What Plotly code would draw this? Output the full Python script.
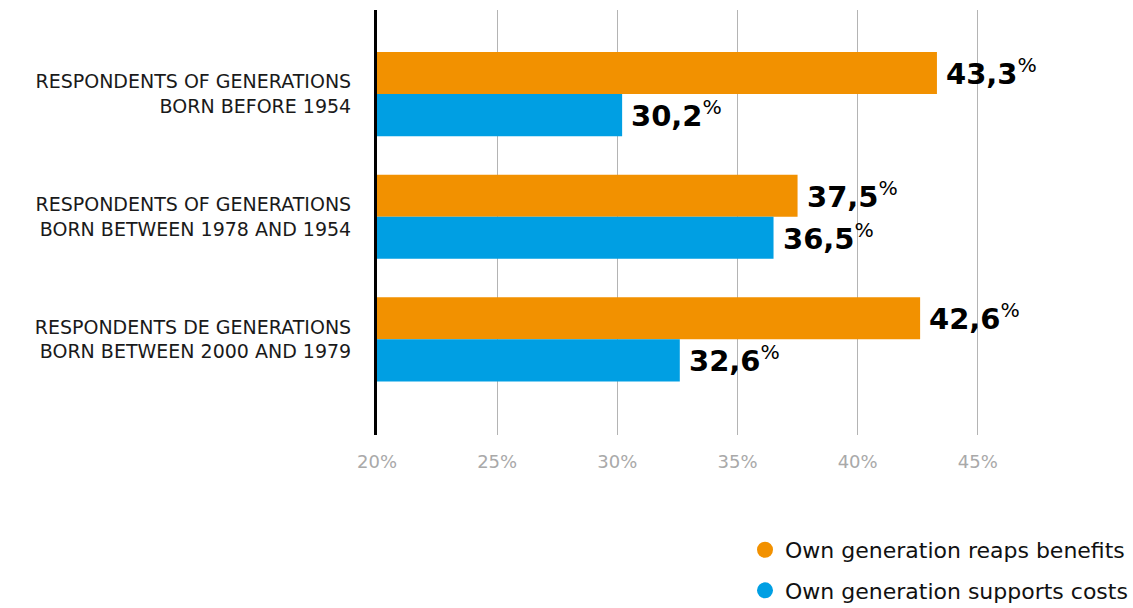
import plotly.graph_objects as go

# Survey groups (top to bottom) and the share answering each statement, in %
groups = [
    "RESPONDENTS OF GENERATIONS<br>BORN BEFORE 1954",
    "RESPONDENTS OF GENERATIONS<br>BORN BETWEEN 1978 AND 1954",
    "RESPONDENTS DE GENERATIONS<br>BORN BETWEEN 2000 AND 1979",
]
reaps_benefits = [43.3, 37.5, 42.6]
supports_costs = [30.2, 36.5, 32.6]

series_names = ["Own generation reaps benefits", "Own generation supports costs"]
series_colors = ["#f29100", "#009fe3"]

x_ticks = [20, 25, 30, 35, 40, 45]
x_tick_labels = ["20%", "25%", "30%", "35%", "40%", "45%"]

FONT = "DejaVu Sans"

fig = go.Figure()

for name, vals, color in zip(series_names, [reaps_benefits, supports_costs], series_colors):
    fig.add_trace(go.Bar(
        y=groups, x=vals, orientation="h", base=0,
        marker=dict(color=color, line=dict(width=0)),
        name=name, showlegend=False, hoverinfo="skip",
    ))

# Legend entries drawn as round dots
for i, (name, color) in enumerate(zip(series_names, series_colors)):
    fig.add_trace(go.Scatter(
        x=[None], y=[None], mode="markers", name=name,
        marker=dict(color=color, size=20, symbol="circle"),
        legendgroup=f"g{i}", showlegend=True,
    ))

# Value labels at the end of each bar
def fmt(v):
    return f"{v:.1f}".replace(".", ",")

for vals, shift in [(reaps_benefits, 21), (supports_costs, -21)]:
    for g, v in zip(groups, vals):
        fig.add_annotation(
            x=v, y=g, xref="x", yref="y",
            text=f"<b>{fmt(v)}</b><sup>%</sup>",
            showarrow=False, xanchor="left", yanchor="middle",
            xshift=7, yshift=shift + 1,
            font=dict(family=FONT, size=29, color="#000000"),
        )

fig.update_layout(
    width=1133, height=608,
    margin=dict(l=377, r=154, t=10, b=173, autoexpand=False),
    paper_bgcolor="white", plot_bgcolor="white",
    barmode="group", bargap=0.314, bargroupgap=0,
    font=dict(family=FONT, color="#1a1a1a"),
    legend=dict(
        xref="container", yref="container",
        x=1.0, xanchor="right", y=0.13, yanchor="top",
        font=dict(family=FONT, size=22, color="#111111"),
        tracegroupgap=9, itemsizing="trace",
        bgcolor="rgba(0,0,0,0)",
    ),
    showlegend=True,
)

fig.update_xaxes(
    range=[20, 45.05], tickvals=x_ticks, ticktext=x_tick_labels,
    showgrid=True, gridcolor="#b4b4b4", gridwidth=1,
    zeroline=False, showline=False, ticks="",
    tickfont=dict(family=FONT, size=18, color="#a9a9a9"),
    ticklabelstandoff=14,
)

fig.update_yaxes(
    categoryorder="array", categoryarray=groups,
    range=[2.78, -0.686],
    showgrid=False, zeroline=False,
    showline=True, linecolor="#000000", linewidth=3,
    ticks="", ticklabelstandoff=19,
    tickfont=dict(family=FONT, size=19, color="#1a1a1a"),
)

fig.write_html("out.html")
